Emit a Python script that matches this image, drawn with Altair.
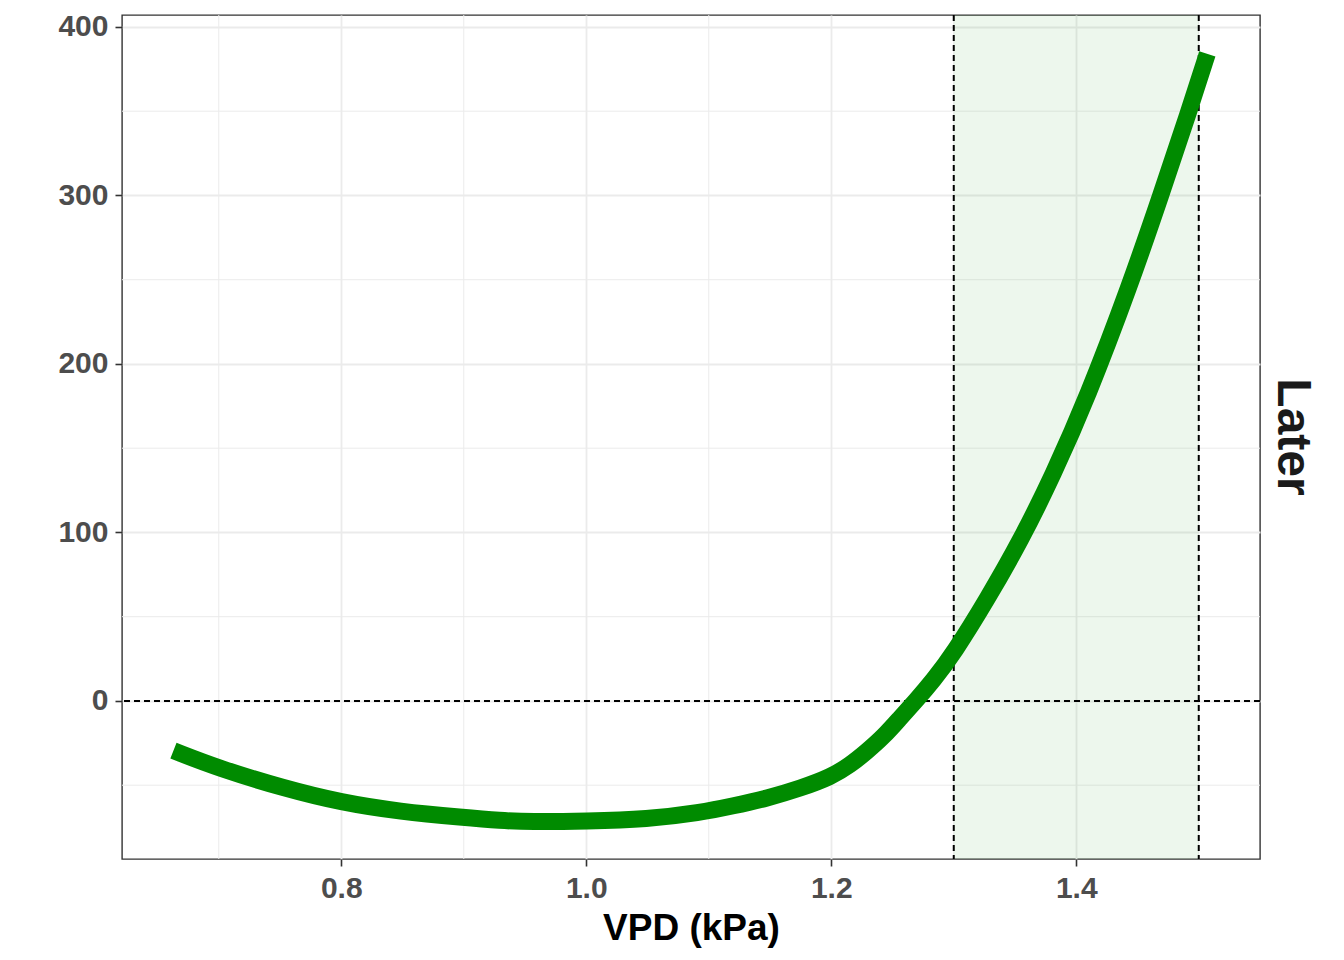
import altair as alt
import pandas as pd

# Curve
vpd = [0.663, 0.700, 0.753, 0.800, 0.848, 0.900, 0.930, 0.954, 1.000, 1.050,
       1.093, 1.120, 1.1475, 1.175, 1.200, 1.2155, 1.229, 1.2427, 1.256, 1.2695,
       1.283, 1.300, 1.327, 1.355, 1.381, 1.409, 1.444, 1.469, 1.492, 1.507]
effect = [-29.5, -40.0, -51.8, -60.3, -65.7, -69.2, -71.0, -71.8, -71.4, -70.2,
          -66.3, -62.3, -57.8, -51.8, -45.0, -38.0, -30.0, -21.2, -10.3, 0.6,
          12.0, 28.3, 60.0, 95.6, 134.0, 180.0, 247.0, 300.0, 350.0, 384.0]

shade_start = [1.3]
shade_end = [1.5]
vlines = [1.3, 1.5]
hlines = [0]
x_ticks = [0.8, 1.0, 1.2, 1.4]
y_ticks = [0, 100, 200, 300, 400]
x_minor = [0.7, 0.9, 1.1, 1.3, 1.5]
y_minor = [-50, 50, 150, 250, 350]
strip_label = ["Later"]

FONT = "Liberation Sans"
x_scale = alt.Scale(domain=[0.621, 1.550], nice=False, zero=False)
y_scale = alt.Scale(domain=[-93.8, 407.1], nice=False, zero=False)

x_axis = alt.Axis(values=x_ticks, format=".1f", title="VPD (kPa)",
                  grid=True, gridColor="#EBEBEB", gridWidth=1.8,
                  domain=False, tickColor="#333333", tickWidth=1.6,
                  tickSize=7, labelFont=FONT, labelFontSize=30,
                  labelFontWeight="bold", labelColor="#4D4D4D",
                  labelPadding=7, titleFont=FONT, titleFontSize=37,
                  titleFontWeight="bold", titleColor="black",
                  titlePadding=7)
y_axis = alt.Axis(values=y_ticks, format="d", title=None,
                  grid=True, gridColor="#EBEBEB", gridWidth=1.8,
                  domain=False, tickColor="#333333", tickWidth=1.6,
                  tickSize=7, labelFont=FONT, labelFontSize=30,
                  labelFontWeight="bold", labelColor="#4D4D4D",
                  labelPadding=7)

curve_df = pd.DataFrame({"vpd": vpd, "effect": effect})

minor_x = alt.Chart(pd.DataFrame({"vpd": x_minor})).mark_rule(
    color="#EBEBEB", strokeWidth=1
).encode(x=alt.X("vpd:Q", scale=x_scale, axis=x_axis))

minor_y = alt.Chart(pd.DataFrame({"effect": y_minor})).mark_rule(
    color="#EBEBEB", strokeWidth=1
).encode(y=alt.Y("effect:Q", scale=y_scale, axis=y_axis))

shade = alt.Chart(pd.DataFrame({"vpd": shade_start, "vpd_end": shade_end})).mark_rect(
    color="#008B00", opacity=0.07
).encode(x=alt.X("vpd:Q", scale=x_scale, axis=x_axis), x2="vpd_end:Q")

hrule = alt.Chart(pd.DataFrame({"effect": hlines})).mark_rule(
    color="black", strokeDash=[6, 4], strokeWidth=2
).encode(y=alt.Y("effect:Q", scale=y_scale, axis=y_axis))

vrule = alt.Chart(pd.DataFrame({"vpd": vlines})).mark_rule(
    color="black", strokeDash=[6, 4], strokeWidth=2
).encode(x=alt.X("vpd:Q", scale=x_scale, axis=x_axis))

line = alt.Chart(curve_df).mark_line(
    color="#008B00", strokeWidth=17, interpolate="basis", strokeCap="butt"
).encode(
    x=alt.X("vpd:Q", scale=x_scale, axis=x_axis),
    y=alt.Y("effect:Q", scale=y_scale, axis=y_axis),
)

strip = alt.Chart(pd.DataFrame({"label": strip_label})).mark_text(
    angle=90, font=FONT, fontSize=48, fontWeight="bold", color="#1A1A1A",
    align="center", baseline="middle"
).encode(text="label:N", x=alt.value(1170), y=alt.value(422))

chart = alt.layer(minor_x, minor_y, shade, hrule, vrule, line, strip).properties(
    width=1138, height=844,
    background="white",
    autosize=alt.AutoSizeParams(type="none"),
    padding={"left": 114, "top": 7, "right": 70, "bottom": 91},
).configure_view(stroke="#333333", strokeWidth=1.4)

chart.save("out.html", embed_options={"renderer": "svg", "actions": False})
